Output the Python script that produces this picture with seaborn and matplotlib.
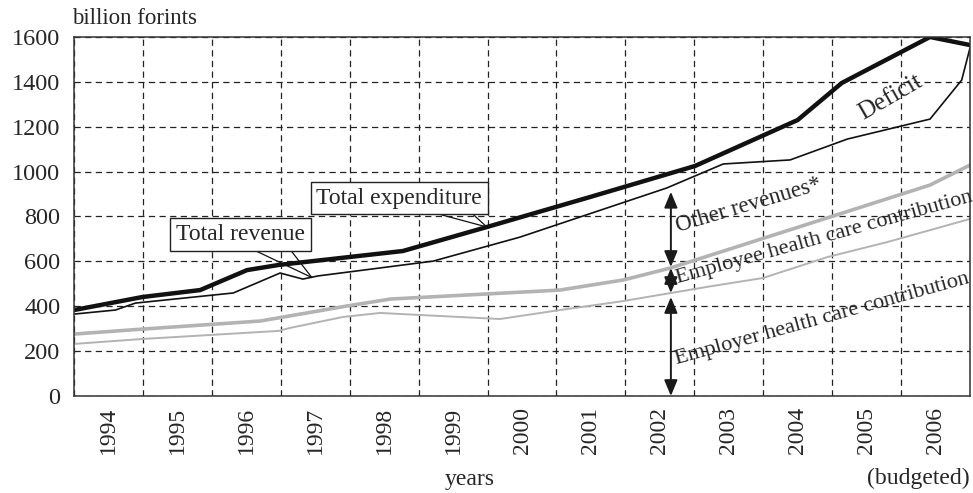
import matplotlib
matplotlib.use("Agg")
import matplotlib.pyplot as plt
import seaborn as sns
from matplotlib.ticker import FixedLocator, MultipleLocator

# values, x in fractional years (1994.0 = left edge, 2007.0 = right edge)
expenditure_x = [1994.0, 1994.99, 1995.83, 1996.51, 1996.97, 1998.77, 1999.99,
                 2001.49, 2003.01, 2004.5, 2005.14, 2006.42, 2007.0]
expenditure_y = [383, 441, 472, 561, 584, 646, 753, 887, 1025, 1230, 1395, 1600, 1564]

revenue_x = [1994.0, 1994.6, 1994.89, 1996.31, 1996.99, 1997.32, 1997.54, 1999.21,
             2000.47, 2002.6, 2003.42, 2004.39, 2005.22, 2006.42, 2006.88, 2007.0]
revenue_y = [365, 383, 414, 459, 548, 521, 535, 601, 708, 927, 1034, 1052, 1145, 1234, 1408, 1551]

contrib_x = [1994.0, 1994.99, 1996.7, 1997.96, 1998.59, 2001.05, 2001.97, 2002.65, 2006.42, 2007.0]
contrib_y = [276, 298, 334, 401, 432, 472, 517, 570, 940, 1029]

employer_x = [1994.0, 1994.99, 1996.97, 1997.13, 1997.9, 1998.44, 1999.02, 2000.18,
              2001.05, 2001.97, 2003.18, 2004.0, 2004.93, 2005.8, 2007.0]
employer_y = [232, 254, 290, 303, 352, 370, 361, 343, 383, 423, 486, 526, 619, 686, 789]

years = [str(y) for y in range(1994, 2007)]
arrow_x = 2002.66
arrow_levels = [(910, 575), (570, 459), (441, 0)]

sns.set_style("white")
plt.rcParams["font.family"] = ["Liberation Serif", "DejaVu Serif"]
fs = 16

fig = plt.figure(figsize=(9.73, 4.93), dpi=100)
ax = fig.add_axes([0.0761, 0.1968, 0.9208, 0.7282])

sns.lineplot(x=employer_x, y=employer_y, ax=ax, color="#b3b3b3", linewidth=1.4)
sns.lineplot(x=contrib_x, y=contrib_y, ax=ax, color="#b3b3b3", linewidth=2.6)
sns.lineplot(x=revenue_x, y=revenue_y, ax=ax, color="#111111", linewidth=1.2)
sns.lineplot(x=expenditure_x, y=expenditure_y, ax=ax, color="#111111", linewidth=3.2)

ax.set_xlim(1994, 2007)
ax.set_ylim(0, 1600)
ax.set_axisbelow(True)

ax.xaxis.set_major_locator(MultipleLocator(1))
ax.xaxis.set_minor_locator(FixedLocator([1994.5 + i for i in range(len(years))]))
ax.set_xticklabels([], minor=False)
ax.set_xticklabels(years, minor=True)
ax.tick_params(axis="x", which="major", length=7, width=1, color="#333", direction="out")
ax.tick_params(axis="x", which="minor", length=0, labelsize=17, labelrotation=90, pad=8)
ax.yaxis.set_major_locator(MultipleLocator(200))
ax.tick_params(axis="y", length=5, width=1, color="#333", direction="out", labelsize=17.5, pad=5)
ax.grid(True, which="major", color="#222", linestyle=(0, (5, 3.5)), linewidth=0.9)
for s in ax.spines.values():
    s.set_color("#333")
    s.set_linewidth(1.1)
ax.set_xlabel("")
ax.set_ylabel("")

# callouts
box = dict(boxstyle="square,pad=0.25", fc="white", ec="#222", lw=1)
ax.text(1996.41, 720, "Total revenue", ha="center", va="center", size=17, bbox=box, zorder=6)
ax.plot([1996.58, 1997.45], [655, 528], color="#111", lw=0.9, zorder=5)
ax.plot([1997.13, 1997.45], [655, 528], color="#111", lw=0.9, zorder=5)
ax.text(1998.72, 882, "Total expenditure", ha="center", va="center", size=17, bbox=box, zorder=6)
ax.plot([1999.24, 1999.99], [815, 753], color="#111", lw=0.9, zorder=5)
ax.plot([1999.77, 1999.99], [815, 753], color="#111", lw=0.9, zorder=5)

for top, bottom in arrow_levels:
    ax.annotate("", xy=(arrow_x, top), xytext=(arrow_x, bottom),
                arrowprops=dict(arrowstyle="<|-|>,head_length=0.6,head_width=0.25",
                                color="#1a1a1a", lw=1.4, shrinkA=0, shrinkB=0,
                                mutation_scale=16))

ax.text(2002.76, 731, "Other revenues*", rotation=16.5, rotation_mode="anchor",
        ha="left", va="baseline", size=16.5)
ax.text(2002.76, 504, "Employee health care contribution", rotation=15.5,
        rotation_mode="anchor", ha="left", va="baseline", size=fs)
ax.text(2002.75, 143, "Employer health care contribution", rotation=15.5,
        rotation_mode="anchor", ha="left", va="baseline", size=fs)
ax.text(2005.85, 1332, "Deficit", rotation=30, rotation_mode="anchor",
        ha="center", va="center", size=18)

fig.text(72 / 973, 1 - 18 / 493, "billion forints", ha="left", va="center", size=16.5)
fig.text(470 / 973, 1 - 480 / 493, "years", ha="center", va="center", size=17)
fig.text(970 / 973, 1 - 478 / 493, "(budgeted)", ha="right", va="center", size=17)

fig.savefig("out.png", dpi=100)
